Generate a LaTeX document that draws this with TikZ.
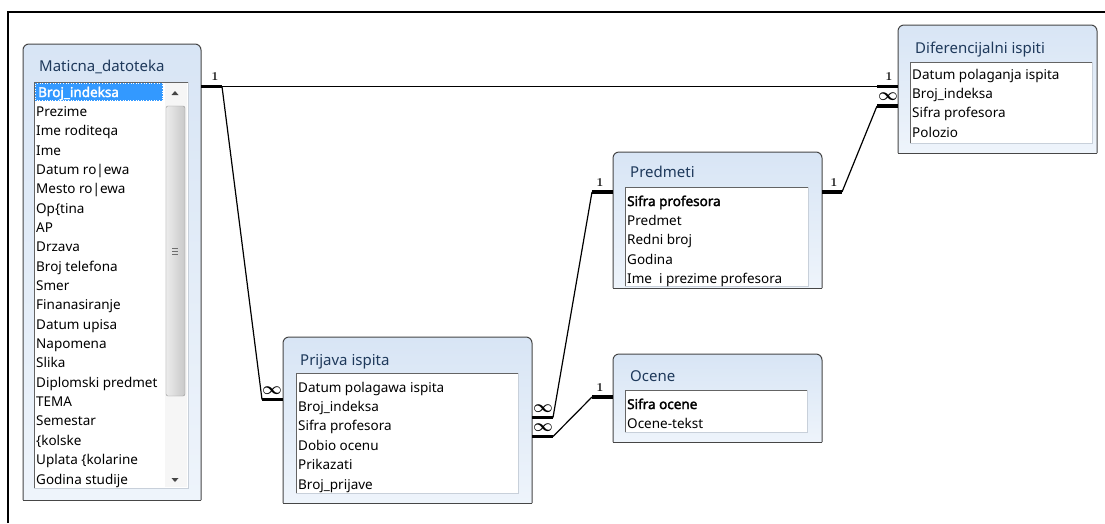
\documentclass[tikz,border=0pt]{standalone}
\usepackage[no-math]{fontspec}
\setmainfont{Noto Sans}[AutoFakeBold=2.2]
\usepackage{bm}

% table outline: rounded top corners, square bottom corners
\newcommand\tableframe[4]{%
  \shade[tblfill,rounded corners=6pt] (#1,#4) -- (#1,#2) -- (#3,#2) -- (#3,#4);
  \draw[tblline,rounded corners=6pt] (#1,#4) -- (#1,#2) -- (#3,#2) -- (#3,#4);
  \draw[tblline] (#1,#4) -- (#3,#4);}
% white field list inside a table
\newcommand\listpane[4]{%
  \fill[white] (#1,#2) rectangle (#3,#4);
  \draw[paneedge] (#1,#4) -- (#1,#2) -- (#3,#2);
  \draw[panelight] (#3,#2) -- (#3,#4) -- (#1,#4);}

\definecolor{titleblue}{RGB}{30,57,91}
\definecolor{tbltop}{RGB}{216,229,245}
\definecolor{tblbot}{RGB}{238,244,251}
\definecolor{selblue}{RGB}{51,153,255}
\definecolor{frameline}{RGB}{70,70,70}
\definecolor{panedark}{RGB}{100,100,100}
\definecolor{panelite}{RGB}{200,208,218}
\definecolor{trackgray}{RGB}{246,246,246}
\definecolor{arrowgray}{RGB}{70,70,70}
\definecolor{thumbleft}{RGB}{236,236,236}
\definecolor{thumbright}{RGB}{200,200,200}
\definecolor{thumbedge}{RGB}{150,150,150}
\definecolor{gripgray}{RGB}{110,110,110}

\begin{document}
\begin{tikzpicture}[x=1pt,y=-1pt,
  tblfill/.style={top color=tbltop,bottom color=tblbot},
  tblline/.style={draw=frameline,line width=1pt},
  paneedge/.style={draw=panedark,line width=0.9pt},
  panelight/.style={draw=panelite,line width=0.8pt},
  title/.style={anchor=base west,inner sep=0pt,text=titleblue,font=\fontsize{15}{18}\selectfont},
  field/.style={anchor=base west,inner sep=0pt,font=\fontsize{13.5}{16}\selectfont},
  keyfield/.style={field,font=\fontsize{13.5}{16}\selectfont\bfseries},
  rel/.style={line width=1.2pt,black},
  stub/.style={line width=3.5pt,black,line cap=butt},
  one/.style={inner sep=0pt,font=\fontsize{13}{13}\selectfont},
  many/.style={inner sep=0pt,font=\fontsize{16}{16}\selectfont},
]
\useasboundingbox (0,0) rectangle (1105,523);
\fill[white] (0,0) rectangle (1105,523);
\draw[line width=1.5pt,black] (8,523) -- (8,12) -- (1105,12);

% ---------- Maticna_datoteka ----------
\tableframe{23}{44}{201}{500}
\node[title] (mat-title) at (39,71) {Maticna\_datoteka};
\listpane{34}{82}{188}{488}
\fill[selblue] (35,83) rectangle (163,101);
\draw[white,dotted,line width=0.6pt] (35.5,83.5) rectangle (162.5,100.5);
\node[keyfield,text=white] (mat-0) at (38,97) {Broj\_indeksa};
\foreach \t [count=\i] in {Prezime,Ime roditeqa,Ime,Datum ro\textbar ewa,
  Mesto ro\textbar ewa,Op\textbraceleft tina,AP,Drzava,Broj telefona,Smer,
  Finanasiranje,Datum upisa,Napomena,Slika,Diplomski predmet,TEMA,Semestar,
  \textbraceleft kolske,Uplata \textbraceleft kolarine,Godina studije}
  \node[field] (mat-\i) at (36,97+\i*19.35) {\t};
% scroll bar
\fill[trackgray] (165,83) rectangle (187,487);
\fill[arrowgray] (171.5,95) -- (178.5,95) -- (175,91) -- cycle;
\fill[arrowgray] (171.5,478) -- (178.5,478) -- (175,482) -- cycle;
\shade[left color=thumbleft,right color=thumbright,draw=thumbedge,rounded corners=2pt]
  (166,106) rectangle (185,396);
\foreach \d in {-3,0,3}
  \draw[gripgray,line width=0.6pt] (172,251+\d) -- (178,251+\d);

% ---------- Diferencijalni ispiti ----------
\tableframe{898}{25}{1097}{153}
\node[title] (dif-title) at (915,53) {Diferencijalni ispiti};
\listpane{910}{62}{1092}{143}
\foreach \t [count=\i from 0] in {Datum polaganja ispita,Broj\_indeksa,Sifra profesora,Polozio}
  \node[field] (dif-\i) at (912,79+\i*19.4) {\t};

% ---------- Predmeti ----------
\tableframe{613}{152}{822}{288}
\node[title] (pre-title) at (630,177) {Predmeti};
\listpane{625}{187}{808}{286}
\node[keyfield] (pre-0) at (627,206) {Sifra profesora};
\foreach \t [count=\i] in {Predmet,Redni broj,Godina,Ime\ \ i prezime profesora}
  \node[field] (pre-\i) at (627,206+\i*19.4) {\t};

% ---------- Prijava ispita ----------
\tableframe{283}{337}{532}{503}
\node[title] (pri-title) at (300,365) {Prijava ispita};
\listpane{296}{373}{518}{493}
\foreach \t [count=\i from 0] in {Datum polagawa ispita,Broj\_indeksa,Sifra profesora,
  Dobio ocenu,Prikazati,Broj\_prijave}
  \node[field] (pri-\i) at (298,392+\i*19.4) {\t};

% ---------- Ocene ----------
\tableframe{613}{354}{822}{442}
\node[title] (oce-title) at (630,381) {Ocene};
\listpane{625}{390}{807}{432}
\node[keyfield] (oce-0) at (627,409) {Sifra ocene};
\node[field] (oce-1) at (627,428) {Ocene-tekst};

% ---------- relationship end points ----------
\coordinate (mat-out)  at (201,86.5);
\coordinate (mat-knee) at (222,86.5);
\coordinate (dif-in1)  at (898,86.5);
\coordinate (dif-k1)   at (877,86.5);
\coordinate (dif-in2)  at (898,106);
\coordinate (dif-k2)   at (877,106);
\coordinate (pri-in)   at (283,399.5);
\coordinate (pri-kin)  at (262,399.5);
\coordinate (pri-out1) at (532,417.5);
\coordinate (pri-k1)   at (553,417.5);
\coordinate (pri-out2) at (532,436.5);
\coordinate (pri-k2)   at (553,436.5);
\coordinate (pre-in)   at (613,192);
\coordinate (pre-kin)  at (592,192);
\coordinate (pre-out)  at (822,192);
\coordinate (pre-kout) at (842,192);
\coordinate (oce-in)   at (613,397);
\coordinate (oce-kin)  at (592,397);

% Maticna_datoteka -> Diferencijalni ispiti, Prijava ispita
\draw[stub] (mat-out) -- (mat-knee);
\draw[rel] (mat-knee) -- (dif-k1);
\draw[stub] (dif-k1) -- (dif-in1);
\draw[rel] (mat-knee) -- (pri-kin);
\draw[stub] (pri-kin) -- (pri-in);
% Prijava ispita -> Predmeti, Ocene
\draw[stub] (pri-out1) -- (pri-k1);
\draw[rel] (pri-k1) -- (pre-kin);
\draw[stub] (pre-kin) -- (pre-in);
\draw[stub] (pri-out2) -- (pri-k2);
\draw[rel] (pri-k2) -- (oce-kin);
\draw[stub] (oce-kin) -- (oce-in);
% Predmeti -> Diferencijalni ispiti
\draw[stub] (pre-out) -- (pre-kout);
\draw[rel] (pre-kout) -- (dif-k2);
\draw[stub] (dif-k2) -- (dif-in2);

% cardinality marks
\node[one]  (c1) at (215,77) {$\mathbf{1}$};
\node[one]  (c2) at (889,77) {$\mathbf{1}$};
\node[many] (c3) at (888,96.5) {$\bm{\infty}$};
\node[many] (c4) at (272,391) {$\bm{\infty}$};
\node[many] (c5) at (543,409) {$\bm{\infty}$};
\node[many] (c6) at (543,428) {$\bm{\infty}$};
\node[one]  (c7) at (600,183) {$\mathbf{1}$};
\node[one]  (c8) at (834,183) {$\mathbf{1}$};
\node[one]  (c9) at (600,387.5) {$\mathbf{1}$};
\end{tikzpicture}
\end{document}
